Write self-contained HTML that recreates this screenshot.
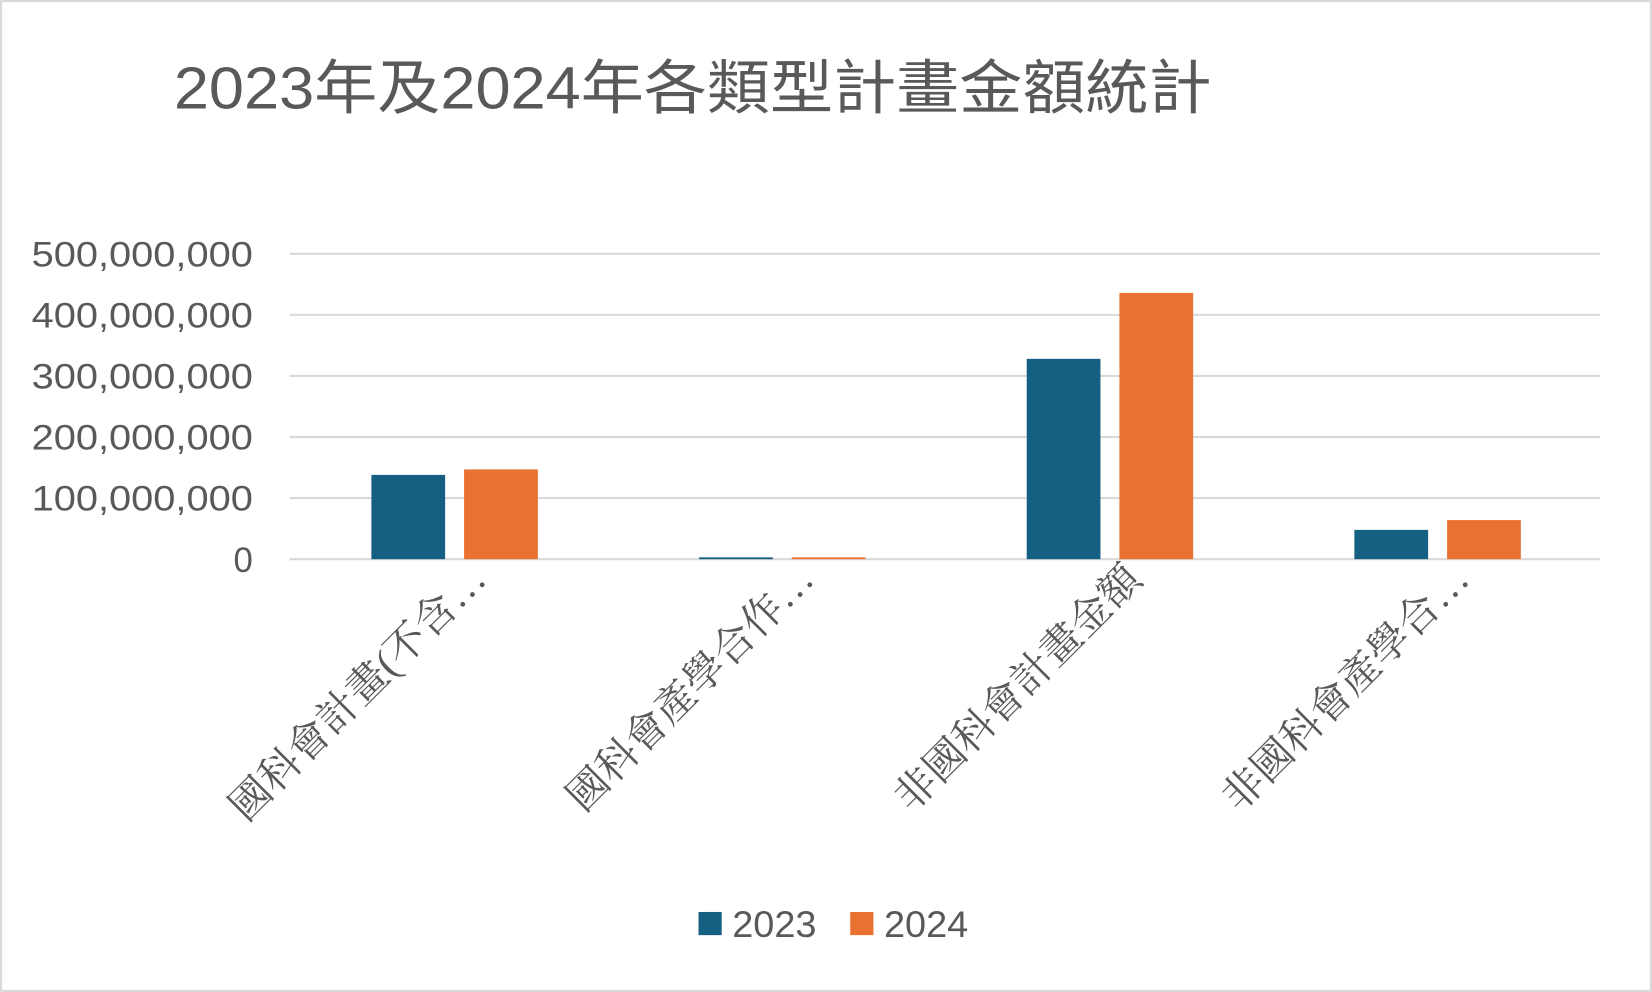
<!DOCTYPE html>
<html><head><meta charset="utf-8">
<style>
html,body{margin:0;padding:0;background:#fff;}
svg{display:block;}
text{font-family:"Liberation Sans","Noto Sans CJK TC",sans-serif;}
.cat{font-family:"Liberation Serif","Noto Serif CJK SC",serif;}
</style></head>
<body>
<svg id="chart" width="1652" height="992" viewBox="0 0 1568 942" preserveAspectRatio="none" xmlns="http://www.w3.org/2000/svg">
<rect x="1" y="1" width="1566" height="940" fill="#fff" stroke="#d9d9d9" stroke-width="2"/>
<text x="165" y="103" font-size="56" fill="#595959" textLength="985" lengthAdjust="spacingAndGlyphs">2023年及2024年各類型計畫金額統計</text>
<g id="grid"></g><g id="bars"></g><g id="labels"></g>
<g>
<rect x="663" y="866" width="22" height="22" fill="#156082"/>
<text x="695" y="890" font-size="35" fill="#595959" textLength="80" lengthAdjust="spacingAndGlyphs">2023</text>
<rect x="807" y="866" width="22" height="22" fill="#e97132"/>
<text x="839" y="890" font-size="35" fill="#595959" textLength="80" lengthAdjust="spacingAndGlyphs">2024</text>
</g>
</svg>
<script>
const categories = ["國科會計畫(不含…","國科會產學合作…","非國科會計畫金額","非國科會產學合…"];
const series2023 = [138000000, 3000000, 328000000, 48000000];
const series2024 = [147000000, 3000000, 436000000, 64000000];
const ticks = [0,100000000,200000000,300000000,400000000,500000000];
const tickLabels = ["0","100,000,000","200,000,000","300,000,000","400,000,000","500,000,000"];

const NS="http://www.w3.org/2000/svg";
const x0=275,x1=1519,y0=531,yTop=241,maxV=500000000;
const y=v=>y0-(v/maxV)*(y0-yTop);
const bandW=(x1-x0)/categories.length;
function mk(tag,attrs,parent){const e=document.createElementNS(NS,tag);for(const k in attrs)e.setAttribute(k,attrs[k]);parent.appendChild(e);return e;}
const grid=document.getElementById('grid'),bars=document.getElementById('bars'),labels=document.getElementById('labels');
ticks.forEach((t,i)=>{
  const l=mk('line',{x1:x0,x2:x1,y1:y(t),y2:y(t),stroke:'#d9d9d9','stroke-width':2},grid);
  
  
  const attrs={x:240,y:y(t)+12,'text-anchor':'end','font-size':33,fill:'#595959'};
  if(tickLabels[i].length>1){attrs.textLength=210;attrs.lengthAdjust='spacingAndGlyphs';}
  const tx=mk('text',attrs,grid);
  tx.textContent=tickLabels[i];
  
  
});
categories.forEach((c,i)=>{
  const cx=x0+bandW*(i+0.5);
  const b1=mk('rect',{x:cx-78,y:y(series2023[i]),width:70,height:y0-y(series2023[i]),fill:'#156082'},bars);
  
  
  const b2=mk('rect',{x:cx+10,y:y(series2024[i]),width:70,height:y0-y(series2024[i]),fill:'#e97132'},bars);
  
  
  const ax=cx+33,ay=552;
  const t=mk('text',{x:ax,y:ay,'text-anchor':'end','font-size':39,fill:'#595959',class:'cat',transform:`rotate(-45 ${ax} ${ay})`},labels);
  t.textContent=c;
  
  
});
</script>
</body></html>
